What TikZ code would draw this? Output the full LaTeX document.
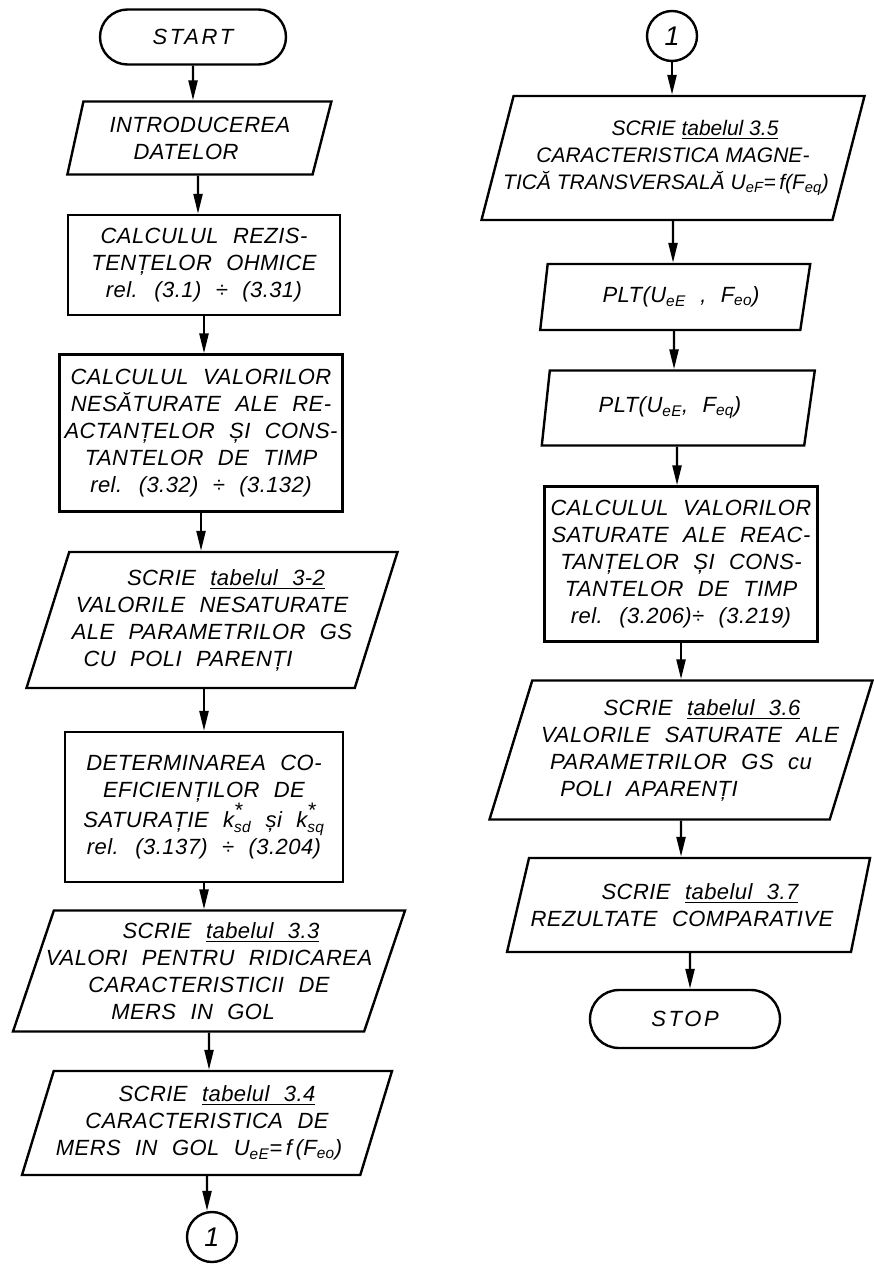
\documentclass[tikz,border=0pt]{standalone}
\usepackage{amsmath}
\usepackage{fontspec}
\setmainfont{Liberation Sans}
\newfontfamily\widefont{Liberation Sans}[LetterSpace=2,WordSpace=2.2]
\usetikzlibrary{shapes.geometric,shapes.misc,arrows.meta}

\begin{document}
\begin{tikzpicture}[x=1pt,y=-1pt,line width=2.4pt,
  txt/.style={font=\widefont\fontsize{22}{27}\selectfont\itshape,align=center,inner sep=2pt},
  term/.style={txt,draw,rounded rectangle,minimum width=190pt,minimum height=55pt,
    font=\fontsize{22}{27}\selectfont\itshape\addfontfeatures{LetterSpace=12}},
  proc/.style={txt,draw,rectangle},
  io/.style={txt,draw,trapezium,trapezium left angle=68,trapezium right angle=112,trapezium stretches body},
  conn/.style={txt,draw,circle,minimum size=50pt,font=\fontsize{27}{27}\selectfont\itshape},
  flow/.style={-{Triangle[length=20pt,width=9pt]}}]
\useasboundingbox[fill=white] (0,0) rectangle (873,1271);

\node[term] (11) at (193,37) {START};
\node[io,trapezium left angle=71,minimum width=264pt,minimum height=73pt] (12) at (198,138) {\hspace*{4pt}INTRODUCEREA\\DATELOR\hspace*{24pt}};
\node[proc,minimum width=272pt,minimum height=100pt] (13) at (204,265) {CALCULUL REZIS-\\TENȚELOR OHMICE\\rel. (3.1) ÷ (3.31)};
\node[proc,minimum width=283pt,minimum height=157pt] (14) at (201,433) {CALCULUL VALORILOR\\NESĂTURATE ALE RE-\\ACTANȚELOR ȘI CONS-\\TANTELOR DE TIMP\\rel. (3.32) ÷ (3.132)};
\node[io,inner xsep=-16pt,minimum width=371pt,minimum height=136pt] (15) at (212,620) {\hspace*{28pt}SCRIE \underline{tabelul 3-2}\\VALORILE NESATURATE\hspace*{4pt}\\ALE PARAMETRILOR GS\hspace*{12pt}\\CU POLI PARENȚI\hspace*{48pt}};
\node[proc,minimum width=278pt,minimum height=150pt] (16) at (204,807) {DETERMINAREA CO-\\EFICIENȚILOR DE\\SATURAȚIE $\text{k}^{\text{\fontsize{21}{21}\selectfont *}}_{\text{sd}}$ și $\text{k}^{\text{\fontsize{21}{21}\selectfont *}}_{\text{sq}}$\\rel. (3.137) ÷ (3.204)};
\node[io,inner xsep=-18pt,minimum width=392pt,minimum height=121pt] (17) at (209,971) {\hspace*{24pt}SCRIE \underline{tabelul 3.3}\\VALORI PENTRU RIDICAREA\\CARACTERISTICII DE\hspace*{8pt}\\MERS IN GOL\hspace*{32pt}};
\node[io,inner xsep=-10pt,minimum width=370pt,minimum height=104pt] (18) at (207,1123) {\hspace*{20pt}SCRIE \underline{tabelul 3.4}\\CARACTERISTICA DE\\MERS IN GOL U\textsubscript{eE}=\,f\,(F\textsubscript{eo})\hspace*{16pt}};
\node[conn] (19) at (212,1237) {1};

\node[conn] (21) at (672,36) {1};
\node[io,inner xsep=-32pt,minimum width=383pt,minimum height=124pt,font=\fontsize{21}{27}\selectfont\itshape] (22) at (673,158) {\hspace*{44pt}SCRIE \underline{tabelul 3.5}\\CARACTERISTICA MAGNE-\hspace*{10pt}\\TICĂ TRANSVERSALĂ U\textsubscript{eF}=\,f(F\textsubscript{eq})\hspace*{14pt}};
\node[io,trapezium left angle=73,minimum width=270pt,minimum height=66pt] (23) at (674,297) {\hspace*{14pt}PLT(U\textsubscript{eE} , F\textsubscript{eo})};
\node[io,trapezium left angle=73,minimum width=273pt,minimum height=75pt] (24) at (677,408) {PLT(U\textsubscript{eE}, F\textsubscript{eq})\hspace*{14pt}};
\node[proc,minimum width=273pt,minimum height=155pt] (25) at (681,564) {CALCULUL VALORILOR\\SATURATE ALE REAC-\\TANȚELOR ȘI CONS-\\TANTELOR DE TIMP\\rel. (3.206)÷ (3.219)};
\node[io,inner xsep=-22pt,minimum width=383pt,minimum height=139pt] (26) at (681,750) {\hspace*{42pt}SCRIE \underline{tabelul 3.6}\\\hspace*{18pt}VALORILE SATURATE ALE\\PARAMETRILOR GS cu\hspace*{36pt}\\POLI APARENȚI\hspace*{64pt}};
\node[io,inner xsep=-24pt,trapezium left angle=65,minimum width=363pt,minimum height=94pt] (27) at (690,905) {\hspace*{20pt}SCRIE \underline{tabelul 3.7}\\REZULTATE COMPARATIVE\hspace*{16pt}};
\node[term,minimum width=194pt,minimum height=58pt] (28) at (685,1019) {STOP};

\draw[flow] (11) -- (11 |- 12.north);
\draw[flow] (12) -- (12 |- 13.north);
\draw[flow] (13) -- (13 |- 14.north);
\draw[flow] (14) -- (14 |- 15.north);
\draw[flow] (16 |- 15.south) -- (16);
\draw[flow] (16) -- (16 |- 17.north);
\draw[flow] (17) -- (17 |- 18.north);
\draw[flow] (18) -- (18 |- 19.north);

\draw[flow] (21) -- (21 |- 22.north);
\draw[flow] (22) -- (22 |- 23.north);
\draw[flow] (23) -- (23 |- 24.north);
\draw[flow] (24) -- (24 |- 25.north);
\draw[flow] (25) -- (25 |- 26.north);
\draw[flow] (26) -- (26 |- 27.north);
\draw[flow] (27) -- (27 |- 28.north);
\end{tikzpicture}
\end{document}
